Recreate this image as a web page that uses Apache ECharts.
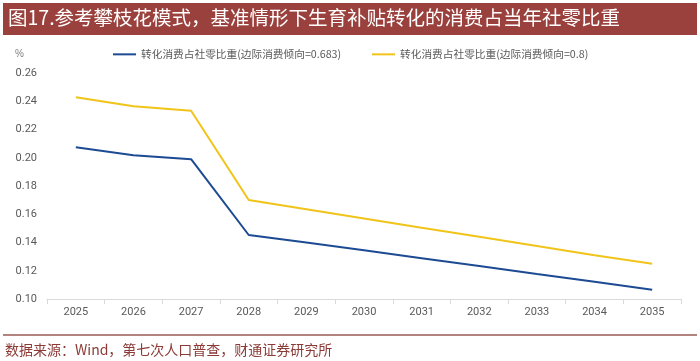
<!DOCTYPE html>
<html><head><meta charset="utf-8">
<script src="https://cdn.jsdelivr.net/npm/echarts@6/dist/echarts.min.js"></script>
<style>html,body{margin:0;padding:0;background:#fff}#c{width:700px;height:361px}</style>
</head><body><div id="c"></div>
<script>
const years = ['2025','2026','2027','2028','2029','2030','2031','2032','2033','2034','2035'];
const seriesBlueName = '转化消费占社零比重(边际消费倾向=0.683)';
const seriesYellowName = '转化消费占社零比重(边际消费倾向=0.8)';
const blueValues = [0.2075, 0.2017, 0.1990, 0.1453, 0.1400, 0.1345, 0.1289, 0.1233, 0.1177, 0.1122, 0.1066];
const yellowValues = [0.2428, 0.2364, 0.2333, 0.1701, 0.1636, 0.1570, 0.1504, 0.1440, 0.1375, 0.1310, 0.1249];
const titleText = '图17.参考攀枝花模式，基准情形下生育补贴转化的消费占当年社零比重';
const sourceText = '数据来源：Wind，第七次人口普查，财通证券研究所';

const cjk = '"Noto Sans CJK SC", sans-serif';
const chart = echarts.init(document.getElementById('c'));
chart.setOption({
  animation: false,
  backgroundColor: '#fff',
  graphic: [
    {type:'rect', shape:{x:3,y:3,width:694,height:32}, style:{fill:'#9a413d'}},
    {type:'text', left:8, top:8, style:{text:titleText, fill:'#fff', font:'19.5px ' + cjk}},
    {type:'line', shape:{x1:3,y1:335,x2:697,y2:335}, style:{stroke:'#9a5a55', lineWidth:1.5}},
    {type:'text', left:5, top:343, style:{text:sourceText, fill:'#8b3a36', font:'14px ' + cjk}}
  ],
  legend: [
    {data:[seriesBlueName], left:108, top:44, itemWidth:23, itemHeight:2, icon:'rect', itemGap:4,
     textStyle:{fontSize:10.7, color:'#595959', fontFamily:cjk}},
    {data:[seriesYellowName], left:367, top:44, itemWidth:23, itemHeight:2, icon:'rect', itemGap:4,
     textStyle:{fontSize:10.7, color:'#595959', fontFamily:cjk}}
  ],
  grid: {left:47, right:19, top:73, bottom:62, containLabel:false},
  xAxis: {
    type:'category', data:years, boundaryGap:true,
    axisLine:{lineStyle:{color:'#d9d9d9'}},
    axisTick:{show:true, alignWithLabel:false, lineStyle:{color:'#d9d9d9'}},
    axisLabel:{color:'#595959', fontSize:11, margin:8, fontFamily:'Roboto, sans-serif'}
  },
  yAxis: {
    type:'value', min:0.10, max:0.26, interval:0.02,
    name:'%', nameLocation:'end', nameGap:14,
    nameTextStyle:{color:'#7f7f7f', fontSize:10, align:'right', padding:[0,23,0,0]},
    axisLine:{show:false}, axisTick:{show:false}, splitLine:{show:false},
    axisLabel:{color:'#595959', fontSize:11, margin:10, fontFamily:'Roboto, sans-serif',
      formatter: v => v.toFixed(2)}
  },
  series: [
    {name:seriesBlueName, type:'line', data:blueValues, symbol:'none', lineStyle:{color:'#1c4a93', width:2}, itemStyle:{color:'#1c4a93'}},
    {name:seriesYellowName, type:'line', data:yellowValues, symbol:'none', lineStyle:{color:'#f0c419', width:2}, itemStyle:{color:'#f0c419'}}
  ]
});
</script></body></html>
